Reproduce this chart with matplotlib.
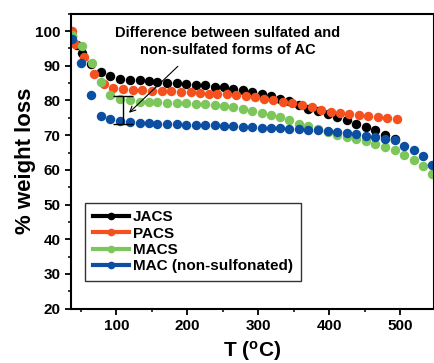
import matplotlib
matplotlib.use("Agg")
import matplotlib.pyplot as plt
from matplotlib.lines import Line2D
from matplotlib.ticker import MultipleLocator

plt.rcParams['font.family'] = ['Liberation Sans', 'DejaVu Sans']
plt.rcParams['font.weight'] = 'bold'
plt.rcParams['mathtext.fontset'] = 'custom'
plt.rcParams['mathtext.rm'] = 'Liberation Sans:bold'

# TGA curves (T in C, % weight)
t_jacs = [38, 44, 51, 65, 78.5, 91.3, 105, 118.7, 132.8, 145.4, 158, 172, 185.6, 198, 212,
          225, 238.8, 251.9, 265, 278, 291.7, 304.8, 317.9, 331, 343.7, 357, 370.5, 384.5,
          398.6, 411.3, 425.3, 438.5, 451.6, 465.3, 478.8, 492.8]
w_jacs = [98.5, 96.0, 93.8, 90.5, 88.3, 87.2, 86.3, 86.0, 85.8, 85.5, 85.3, 85.1, 84.9, 84.8, 84.6,
          84.4, 83.9, 83.8, 83.4, 82.9, 82.4, 82.0, 81.3, 80.5, 79.8, 78.7, 77.6, 76.9,
          76.2, 75.3, 74.3, 73.3, 72.4, 71.4, 70.1, 68.9]

t_pacs = [38, 42, 55, 69, 82.7, 95.3, 109, 123, 136, 150, 164, 177, 191, 205, 218,
          230, 242.5, 255.7, 268.6, 282.4, 295.4, 308.6, 321.2, 334.5, 347.5, 361.2, 375.2,
          388.3, 402, 415, 428, 441.8, 454.9, 468.5, 482, 496]
w_pacs = [100, 96.4, 92.4, 87.7, 84.8, 83.6, 83.2, 83.0, 82.9, 82.8, 82.7, 82.6, 82.5, 82.4, 82.2,
          82.0, 82.0, 81.8, 81.5, 81.2, 80.9, 80.5, 80.2, 79.7, 79.2, 78.7, 78.1,
          77.4, 76.7, 76.4, 76.1, 75.7, 75.5, 75.3, 75.0, 74.6]

t_macs = [38, 52, 66, 78.5, 91.3, 105, 118.7, 132.8, 145.4, 158, 172, 185.6, 198, 212,
          225, 238.8, 251.9, 265, 278, 291.7, 304.8, 317.9, 331, 344, 357, 370.5, 384,
          397.7, 411.3, 425, 438.5, 451.6, 465.3, 479.3, 492.4, 506, 519, 532.2, 545]
w_macs = [99.0, 95.7, 90.9, 85.4, 81.7, 80.4, 80.0, 79.7, 79.6, 79.5, 79.4, 79.3, 79.2, 79.1,
          79.0, 78.7, 78.3, 78.0, 77.6, 77.0, 76.3, 75.8, 75.3, 74.3, 73.3, 72.5, 71.7,
          70.8, 70.1, 69.5, 68.9, 68.2, 67.5, 66.6, 65.6, 64.2, 62.7, 61.0, 58.9]

t_mac = [38, 50.3, 64.4, 78.5, 91.3, 105, 118.7, 132.8, 145.4, 158, 172, 185.6, 198, 212,
         225, 238.8, 251.9, 265, 278, 291.7, 304.8, 317.9, 331, 344, 357, 370.5, 384,
         397.7, 411.3, 425, 438.5, 451.6, 465.3, 479.3, 492.4, 506, 519, 532.2, 545]
w_mac = [97.6, 90.9, 81.7, 75.6, 74.6, 74.2, 73.8, 73.5, 73.4, 73.3, 73.2, 73.1, 73.0, 72.9,
         72.8, 72.8, 72.5, 72.5, 72.4, 72.3, 72.2, 72.0, 72.0, 71.7, 71.8, 71.5, 71.4,
         71.1, 70.9, 70.6, 70.3, 69.9, 69.5, 69.0, 68.5, 67.0, 65.6, 63.9, 61.5]

labels = ['JACS', 'PACS', 'MACS', 'MAC (non-sulfonated)']
colors = ['#000000', '#F4511E', '#7CC65B', '#0B4EA2']

fig = plt.figure(figsize=(4.35, 3.63), dpi=100)
ax = fig.add_axes([0.163, 0.150, 0.835, 0.812])

series = [(t_jacs, w_jacs), (t_pacs, w_pacs), (t_macs, w_macs), (t_mac, w_mac)]
for (t, w), c in zip(series, colors):
    ax.plot(t, w, 'o', color=c, ms=6.8, mec='none')

ax.set_xlim(36, 548)
ax.set_ylim(20, 105)
ax.xaxis.set_major_locator(MultipleLocator(100))
ax.xaxis.set_minor_locator(MultipleLocator(50))
ax.yaxis.set_major_locator(MultipleLocator(10))
ax.yaxis.set_minor_locator(MultipleLocator(5))
ax.tick_params(which='major', direction='out', length=4, width=1.3, labelsize=11)
ax.tick_params(which='minor', direction='out', length=2, width=1.1)
for s in ax.spines.values():
    s.set_linewidth(1.5)

ax.set_xlabel('T ($\\mathrm{^o}$C)', fontsize=15, fontweight='bold', labelpad=4)
ax.set_ylabel('% weight loss', fontsize=16, fontweight='bold', labelpad=-1)

# difference marker and note
ax.vlines(109, 73.3, 81.2, color='black', lw=1)
ax.hlines([73.3, 81.2], 95, 124, color='black', lw=1)
ax.annotate('', xy=(115, 75.9), xytext=(189.6, 90.4),
            arrowprops=dict(arrowstyle='->', color='black', lw=0.8))
ax.text(257, 97.1, 'Difference between sulfated and\nnon-sulfated forms of AC',
        ha='center', va='center', multialignment='center', fontsize=10.5,
        fontweight='bold', linespacing=1.3)

handles = [Line2D([], [], color=c, lw=3, marker='o', ms=4.5) for c in colors]
leg = ax.legend(handles, labels, loc='lower left', bbox_to_anchor=(0.039, 0.094),
                borderaxespad=0, frameon=True, fancybox=False,
                edgecolor='black', handlelength=2.4, handletextpad=0.25,
                labelspacing=0.15, borderpad=0.5, prop={'weight': 'bold', 'size': 11})
leg.get_frame().set_linewidth(1)

fig.savefig('out.png', dpi=100)
